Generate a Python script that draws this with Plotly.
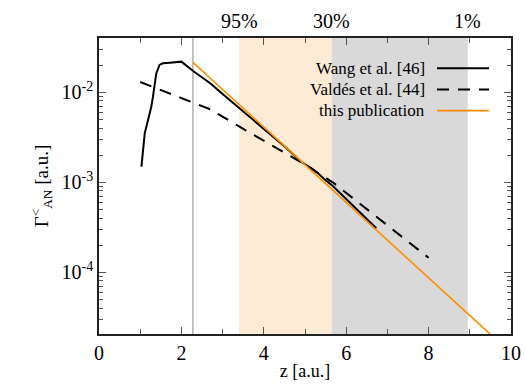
import plotly.graph_objects as go

# Wang et al. [46]
wang_z = [1.03, 1.085, 1.11, 1.19, 1.27, 1.31, 1.35, 1.39, 1.47, 1.55, 1.72, 2.0,
          2.3, 2.7, 3.0, 3.4, 4.0, 4.5, 4.9, 5.0, 5.1, 5.2, 5.35, 5.5, 5.65, 6.0, 6.5, 6.73]
wang_g = [1.49e-3, 2.71e-3, 3.50e-3, 4.92e-3, 6.92e-3, 8.93e-3, 1.26e-2, 1.62e-2, 2.01e-2,
          2.10e-2, 2.13e-2, 2.19e-2,
          1.70e-2, 1.26e-2, 9.55e-3, 6.68e-3, 3.98e-3, 2.51e-3, 1.70e-3, 1.58e-3, 1.50e-3,
          1.38e-3, 1.22e-3, 1.05e-3, 9.30e-4, 6.46e-4, 3.89e-4, 3.08e-4]

# Valdés et al. [44]
valdes_z = [1.0, 2.0, 2.7, 3.4, 4.0, 5.0, 5.7, 6.5, 7.0, 8.0]
valdes_g = [1.30e-2, 8.71e-3, 6.46e-3, 4.17e-3, 2.88e-3, 1.58e-3, 9.77e-4, 5.01e-4,
            3.31e-4, 1.45e-4]

# this publication
pub_z = [2.28, 9.8]
pub_g = [2.15e-2, 1.53e-5]

# shaded regions and labels
region_edges = [3.4, 5.65, 8.95]
region_labels = ["95%", "30%", "1%"]
vline_z = 2.28

font_family = "'Liberation Serif', 'DejaVu Serif', serif"

fig = go.Figure()
fig.add_trace(go.Scatter(x=wang_z, y=wang_g, mode="lines",
                         line=dict(color="black", width=2), name="Wang et al. [46]",
                         showlegend=False))
fig.add_trace(go.Scatter(x=valdes_z, y=valdes_g, mode="lines",
                         line=dict(color="black", width=2, dash="12px,9px"),
                         name="Valdés et al. [44]", showlegend=False))
fig.add_trace(go.Scatter(x=pub_z, y=pub_g, mode="lines",
                         line=dict(color="#FF8C00", width=1.6), name="this publication",
                         showlegend=False))

# shaded bands
fig.add_shape(type="rect", xref="x", yref="paper", x0=region_edges[0], x1=region_edges[1],
              y0=0, y1=1, fillcolor="#FDEBD6", line_width=0, layer="below")
fig.add_shape(type="rect", xref="x", yref="paper", x0=region_edges[1], x1=region_edges[2],
              y0=0, y1=1, fillcolor="#D9D9D9", line_width=0, layer="below")
fig.add_shape(type="line", xref="x", yref="paper", x0=vline_z, x1=vline_z, y0=0, y1=1,
              line=dict(color="#888888", width=1), layer="below")

for z, lab in zip(region_edges, region_labels):
    fig.add_annotation(x=z, y=1, xref="x", yref="paper", yanchor="bottom", yshift=4,
                       text=lab, showarrow=False,
                       font=dict(family=font_family, size=20, color="black"))

# manual legend (text right-aligned, sample on the right)
legend_items = [("Wang et al. [46]", "solid", "black"),
                ("Valdés et al. [44]", "12px,9px", "black"),
                ("this publication", "solid", "#FF8C00")]
W, H = 525, 390
ml, mr, mt, mb = 99, 14, 38, 56
pw, ph = W - ml - mr, H - mt - mb
def px2paper(xp, yp):
    return (xp - ml) / pw, 1 - (yp - mt) / ph
for i, (lab, dash, col) in enumerate(legend_items):
    yc = 68.3 + 21.2 * i
    tx, ty = px2paper(427, yc)
    fig.add_annotation(x=tx, y=ty, xref="paper", yref="paper", xanchor="right",
                       yanchor="middle", text=lab, showarrow=False,
                       font=dict(family=font_family, size=17, color="black"))
    x0, y0 = px2paper(437, yc)
    x1, _ = px2paper(489, yc)
    fig.add_shape(type="line", xref="paper", yref="paper", x0=x0, x1=x1, y0=y0, y1=y0,
                  line=dict(color=col, width=2 if col == "black" else 1.8, dash=dash))

minor_vals = [m * 10 ** e for e in (-5, -4, -3, -2) for m in range(2, 10)]

fig.update_layout(
    width=W, height=H, margin=dict(l=ml, r=mr, t=mt, b=mb, autoexpand=False),
    plot_bgcolor="white", paper_bgcolor="white",
    font=dict(family=font_family, size=19, color="black"),
    xaxis=dict(range=[0, 10], tickvals=[0, 2, 4, 6, 8, 10], ticks="inside", ticklen=7,
               tickwidth=1, tickcolor="#555", showline=True, linecolor="#222", linewidth=1.5,
               mirror="allticks", showgrid=False, zeroline=False, automargin=False,
               minor=dict(tickvals=[1, 3, 5, 7, 9], ticks="inside", ticklen=5, tickcolor="#555"),
               title=dict(text="z [a.u.]", font=dict(family=font_family, size=18), standoff=2),
               tickfont=dict(family=font_family, size=20)),
    yaxis=dict(type="log", range=[-4.686, -1.397], tickvals=[1e-4, 1e-3, 1e-2],
               ticktext=["10<sup>-4</sup>", "10<sup>-3</sup>", "10<sup>-2</sup>"],
               ticks="inside", ticklen=7, tickcolor="#555", showline=True, linecolor="#222",
               linewidth=1.5, mirror="allticks", showgrid=False, zeroline=False,
               automargin=False,
               minor=dict(tickvals=minor_vals, ticks="inside", ticklen=4, tickcolor="#555"),
               title=dict(text="Γ<sup>&lt;</sup><sub>AN</sub> [a.u.]",
                          font=dict(family=font_family, size=19), standoff=8),
               tickfont=dict(family=font_family, size=20)),
)

fig.write_html("out.html")
